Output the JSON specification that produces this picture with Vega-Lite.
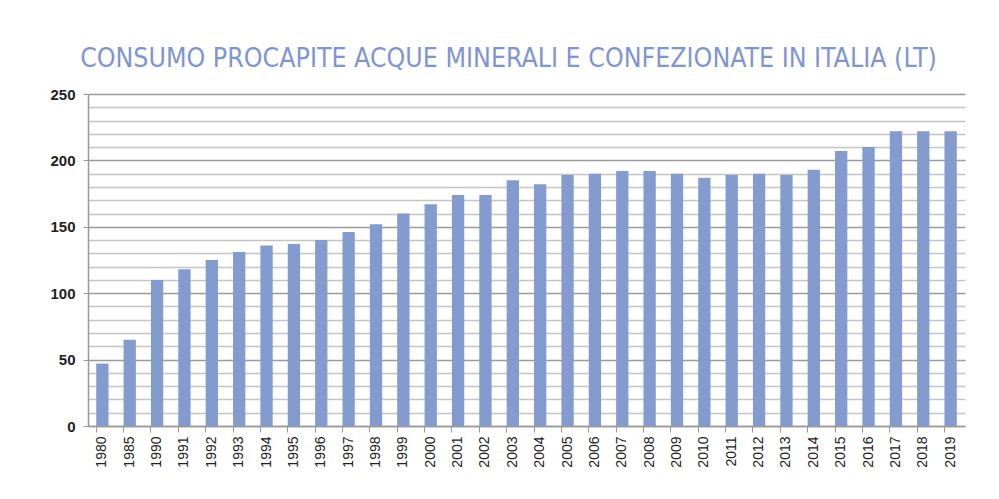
{
  "$schema": "https://vega.github.io/schema/vega-lite/v6.json",
  "width": 877,
  "height": 332,
  "autosize": {"type": "none"},
  "padding": {"left": 88, "top": 94, "right": 34, "bottom": 73},
  "background": "white",
  "title": {
    "text": "CONSUMO PROCAPITE ACQUE MINERALI E CONFEZIONATE IN ITALIA (LT)",
    "font": "DejaVu Sans Condensed, Liberation Sans, sans-serif",
    "fontSize": 26.5,
    "fontWeight": "normal",
    "color": "#7f95d1",
    "anchor": "middle",
    "dx": -18,
    "offset": 15
  },
  "data": {
    "values": [
      {"anno": "1980", "litri": 47},
      {"anno": "1985", "litri": 65},
      {"anno": "1990", "litri": 110},
      {"anno": "1991", "litri": 118},
      {"anno": "1992", "litri": 125},
      {"anno": "1993", "litri": 131},
      {"anno": "1994", "litri": 136},
      {"anno": "1995", "litri": 137},
      {"anno": "1996", "litri": 140},
      {"anno": "1997", "litri": 146},
      {"anno": "1998", "litri": 152},
      {"anno": "1999", "litri": 160},
      {"anno": "2000", "litri": 167},
      {"anno": "2001", "litri": 174},
      {"anno": "2002", "litri": 174},
      {"anno": "2003", "litri": 185},
      {"anno": "2004", "litri": 182},
      {"anno": "2005", "litri": 189},
      {"anno": "2006", "litri": 190},
      {"anno": "2007", "litri": 192},
      {"anno": "2008", "litri": 192},
      {"anno": "2009", "litri": 190},
      {"anno": "2010", "litri": 187},
      {"anno": "2011", "litri": 189},
      {"anno": "2012", "litri": 190},
      {"anno": "2013", "litri": 189},
      {"anno": "2014", "litri": 193},
      {"anno": "2015", "litri": 207},
      {"anno": "2016", "litri": 210},
      {"anno": "2017", "litri": 222},
      {"anno": "2018", "litri": 222},
      {"anno": "2019", "litri": 222}
    ]
  },
  "mark": {"type": "bar", "color": "#849bd0"},
  "encoding": {
    "x": {
      "field": "anno",
      "type": "ordinal",
      "sort": null,
      "scale": {"paddingInner": 0.55, "paddingOuter": 0.3},
      "axis": {
        "title": null,
        "labelAngle": -90,
        "labelFont": "Liberation Sans",
        "labelFontSize": 14,
        "labelColor": "#222222",
        "labelPadding": 4,
        "bandPosition": 0,
        "ticks": true,
        "tickSize": 6,
        "tickColor": "#999999",
        "domainColor": "#999999",
        "domainWidth": 1.5,
        "grid": false
      }
    },
    "y": {
      "field": "litri",
      "type": "quantitative",
      "scale": {"domain": [0, 250], "nice": false},
      "axis": {
        "title": null,
        "values": [0,10,20,30,40,50,60,70,80,90,100,110,120,130,140,150,160,170,180,190,200,210,220,230,240,250],
        "labelExpr": "datum.value % 50 === 0 ? datum.label : ''",
        "labelFont": "Liberation Sans",
        "labelFontSize": 15,
        "labelFontWeight": "bold",
        "labelColor": "#222222",
        "labelPadding": 8,
        "grid": true,
        "gridColor": {"condition": {"test": "datum.value % 50 === 0", "value": "#9a9a9a"}, "value": "#c4c4c4"},
        "gridWidth": 1.6,
        "tickSize": 5,
        "tickColor": "#999999",
        "tickOpacity": {"condition": {"test": "datum.value % 50 === 0", "value": 1}, "value": 0},
        "domainColor": "#999999",
        "domainWidth": 1.5
      }
    }
  },
  "config": {
    "view": {"stroke": null}
  }
}
